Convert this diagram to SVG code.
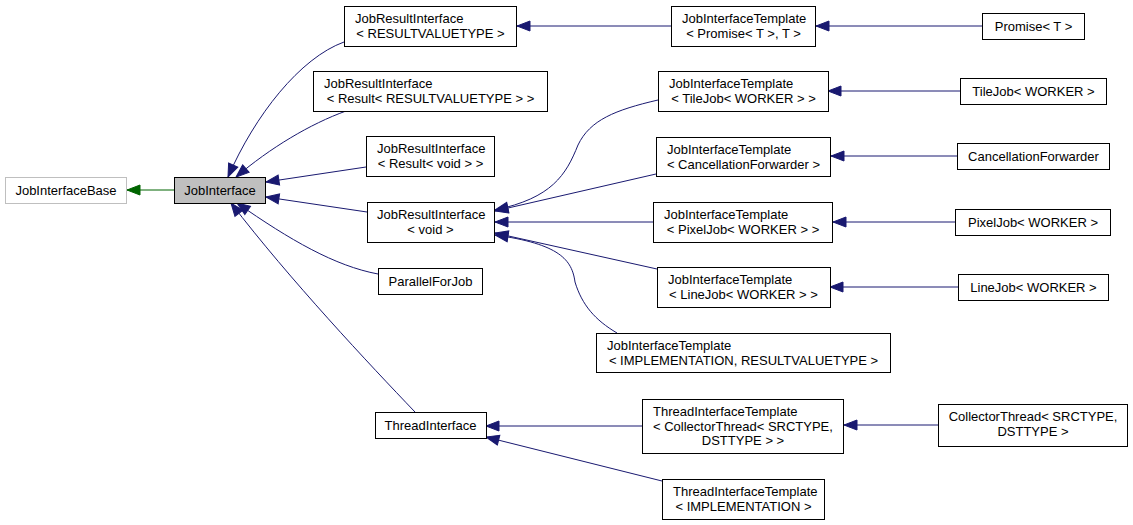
<svg xmlns="http://www.w3.org/2000/svg" width="1133" height="525" viewBox="0 0 1133 525">
<style>
.n rect{fill:#fff;stroke:#000;stroke-width:1}
.n text{font-family:"Liberation Sans",Arial,Helvetica,sans-serif;font-size:13px;fill:#000}
.m{text-anchor:middle}
.e path{fill:none;stroke:#191970;stroke-width:1}
.e path.g{stroke:#006400}
</style>
<defs>
<marker id="ab" markerUnits="userSpaceOnUse" markerWidth="14" markerHeight="11" refX="13" refY="5" orient="auto" viewBox="0 0 14 11" overflow="visible">
<path d="M0,0 L13,5 L0,10 z" fill="#191970" stroke="#191970" stroke-width="1"/>
</marker>
<marker id="ag" markerUnits="userSpaceOnUse" markerWidth="14" markerHeight="11" refX="13" refY="5" orient="auto" viewBox="0 0 14 11" overflow="visible">
<path d="M0,0 L13,5 L0,10 z" fill="#006400" stroke="#006400" stroke-width="1"/>
</marker>
</defs>
<rect x="0" y="0" width="1133" height="525" fill="#fff"/>

<g id="edges" class="e">
<path class="g" d="M174.5,190 L127,190" marker-end="url(#ag)"/>
<path d="M344,42 C300,58 255,115 228,177" marker-end="url(#ab)"/>
<path d="M346,111 C310,124 270,148 236,177" marker-end="url(#ab)"/>
<path d="M366,167 L266,182" marker-end="url(#ab)"/>
<path d="M367,212 L266,197" marker-end="url(#ab)"/>
<path d="M378,274 C335,266 290,240 237,203" marker-end="url(#ab)"/>
<path d="M415,412 C370,365 290,280 231,203" marker-end="url(#ab)"/>
<path d="M671,26 L517,26" marker-end="url(#ab)"/>
<path d="M982,26 L816,26" marker-end="url(#ab)"/>
<path d="M960,91 L828,91" marker-end="url(#ab)"/>
<path d="M957,156 L831,156" marker-end="url(#ab)"/>
<path d="M955,222 L833,222" marker-end="url(#ab)"/>
<path d="M958,287 L830,287" marker-end="url(#ab)"/>
<path d="M658,100 C615,110 590,120 578,145 C566,175 552,198 495,210" marker-end="url(#ab)"/>
<path d="M656,174 L495,211" marker-end="url(#ab)"/>
<path d="M653,222 L495,222" marker-end="url(#ab)"/>
<path d="M657,269 L495,233" marker-end="url(#ab)"/>
<path d="M617,333 C595,320 582,305 575,282 C572,260 560,244 495,235" marker-end="url(#ab)"/>
<path d="M642,426 L486,426" marker-end="url(#ab)"/>
<path d="M938,425 L844,425" marker-end="url(#ab)"/>
<path d="M662,481 L486,437" marker-end="url(#ab)"/>
</g>

<g id="JobInterfaceBase" class="n">
<rect x="5.5" y="177.5" width="121" height="26" style="stroke:#bfbfbf"/>
<text class="m" x="66" y="195">JobInterfaceBase</text>
</g>
<g id="JobInterface" class="n">
<rect x="174.5" y="177.5" width="91" height="26" style="fill:#bfbfbf"/>
<text class="m" x="220" y="195">JobInterface</text>
</g>

<g id="JobResultInterface_RVT" class="n">
<rect x="344.5" y="6.5" width="172" height="40"/>
<text x="355" y="23">JobResultInterface</text>
<text class="m" x="430.5" y="37.5">&lt; RESULTVALUETYPE &gt;</text>
</g>
<g id="JobResultInterface_Result_RVT" class="n">
<rect x="313.5" y="71.5" width="234" height="40"/>
<text x="324" y="88">JobResultInterface</text>
<text class="m" x="430.5" y="102.5">&lt; Result&lt; RESULTVALUETYPE &gt; &gt;</text>
</g>
<g id="JobResultInterface_Result_void" class="n">
<rect x="366.5" y="136.5" width="128" height="40"/>
<text x="377" y="153">JobResultInterface</text>
<text class="m" x="430.5" y="167.5">&lt; Result&lt; void &gt; &gt;</text>
</g>
<g id="JobResultInterface_void" class="n">
<rect x="367.5" y="202.5" width="127" height="40"/>
<text x="377" y="219">JobResultInterface</text>
<text class="m" x="430.5" y="233.5">&lt; void &gt;</text>
</g>
<g id="ParallelForJob" class="n">
<rect x="378.5" y="268.5" width="104" height="26"/>
<text class="m" x="430.5" y="286">ParallelForJob</text>
</g>
<g id="ThreadInterface" class="n">
<rect x="375.5" y="412.5" width="111" height="26"/>
<text class="m" x="430.5" y="430">ThreadInterface</text>
</g>

<g id="JobInterfaceTemplate_Promise" class="n">
<rect x="671.5" y="6.5" width="144" height="40"/>
<text x="682" y="23">JobInterfaceTemplate</text>
<text class="m" x="743.5" y="37.5">&lt; Promise&lt; T &gt;, T &gt;</text>
</g>
<g id="JobInterfaceTemplate_TileJob" class="n">
<rect x="658.5" y="71.5" width="170" height="40"/>
<text x="669" y="88">JobInterfaceTemplate</text>
<text class="m" x="743.5" y="102.5">&lt; TileJob&lt; WORKER &gt; &gt;</text>
</g>
<g id="JobInterfaceTemplate_CancellationForwarder" class="n">
<rect x="656.5" y="137.5" width="174" height="39"/>
<text x="667" y="154">JobInterfaceTemplate</text>
<text class="m" x="743.5" y="168.5">&lt; CancellationForwarder &gt;</text>
</g>
<g id="JobInterfaceTemplate_PixelJob" class="n">
<rect x="653.5" y="202.5" width="179" height="40"/>
<text x="664" y="219">JobInterfaceTemplate</text>
<text class="m" x="743" y="233.5">&lt; PixelJob&lt; WORKER &gt; &gt;</text>
</g>
<g id="JobInterfaceTemplate_LineJob" class="n">
<rect x="657.5" y="267.5" width="173" height="40"/>
<text x="668" y="284">JobInterfaceTemplate</text>
<text class="m" x="743.5" y="298.5">&lt; LineJob&lt; WORKER &gt; &gt;</text>
</g>
<g id="JobInterfaceTemplate_IMPL_RVT" class="n">
<rect x="596.5" y="333.5" width="294" height="39"/>
<text x="607" y="350">JobInterfaceTemplate</text>
<text class="m" x="743.5" y="364.5">&lt; IMPLEMENTATION, RESULTVALUETYPE &gt;</text>
</g>
<g id="ThreadInterfaceTemplate_CollectorThread" class="n">
<rect x="642.5" y="399.5" width="201" height="54"/>
<text x="653" y="416">ThreadInterfaceTemplate</text>
<text x="653" y="430.5">&lt; CollectorThread&lt; SRCTYPE,</text>
<text class="m" x="743" y="445">DSTTYPE &gt; &gt;</text>
</g>
<g id="ThreadInterfaceTemplate_IMPL" class="n">
<rect x="662.5" y="479.5" width="162" height="40"/>
<text x="673" y="496">ThreadInterfaceTemplate</text>
<text class="m" x="743.5" y="510.5">&lt; IMPLEMENTATION &gt;</text>
</g>

<g id="Promise_T" class="n">
<rect x="982.5" y="13.5" width="102" height="26"/>
<text class="m" x="1033.5" y="31">Promise&lt; T &gt;</text>
</g>
<g id="TileJob_WORKER" class="n">
<rect x="960.5" y="78.5" width="146" height="26"/>
<text class="m" x="1033.5" y="96">TileJob&lt; WORKER &gt;</text>
</g>
<g id="CancellationForwarder" class="n">
<rect x="957.5" y="143.5" width="152" height="26"/>
<text class="m" x="1033.5" y="161">CancellationForwarder</text>
</g>
<g id="PixelJob_WORKER" class="n">
<rect x="955.5" y="209.5" width="155" height="26"/>
<text class="m" x="1033" y="227">PixelJob&lt; WORKER &gt;</text>
</g>
<g id="LineJob_WORKER" class="n">
<rect x="958.5" y="274.5" width="150" height="26"/>
<text class="m" x="1033.5" y="292">LineJob&lt; WORKER &gt;</text>
</g>
<g id="CollectorThread" class="n">
<rect x="938.5" y="404.5" width="189" height="42"/>
<text class="m" x="1033" y="421">CollectorThread&lt; SRCTYPE,</text>
<text class="m" x="1033" y="436">DSTTYPE &gt;</text>
</g>
</svg>
